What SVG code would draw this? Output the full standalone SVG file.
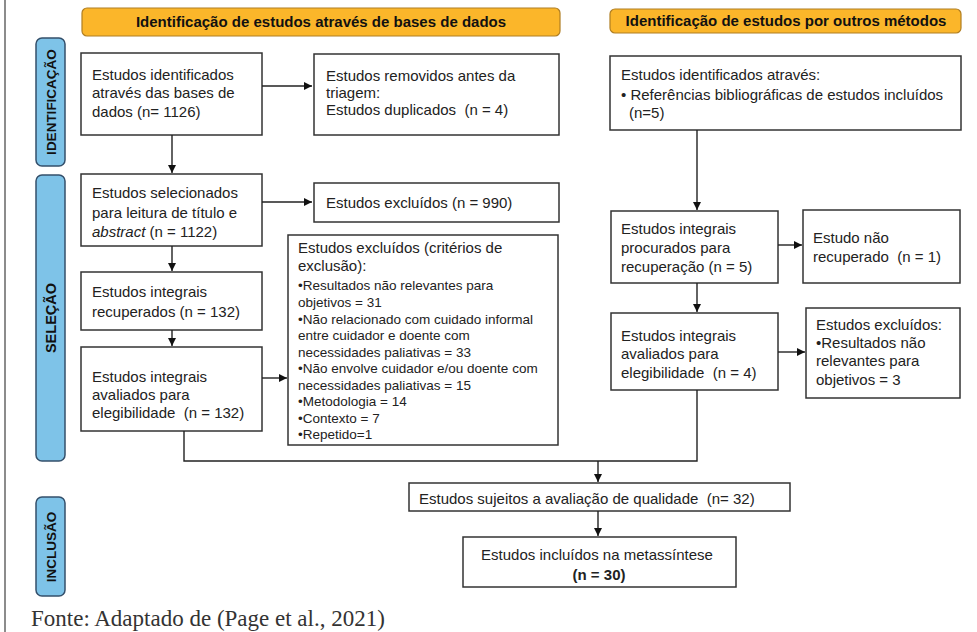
<svg xmlns="http://www.w3.org/2000/svg" width="977" height="632" viewBox="0 0 977 632">
<style>
text{font-family:"Liberation Sans",Arial,sans-serif;fill:#222;white-space:pre}
.t{font-size:15px}
.s{font-size:13.5px}
.h{font-size:15px;font-weight:bold;text-anchor:middle;fill:#111}
.v{font-size:13.5px;font-weight:bold;text-anchor:middle;fill:#111}
.box{fill:#fff;stroke:#333;stroke-width:1.5}
.hdr{fill:#FBB62A;stroke:#B07E22;stroke-width:1.2}
.bar{fill:#7EC3E8;stroke:#34506B;stroke-width:1.5}
.c{fill:none;stroke:#222;stroke-width:1.4}
</style>
<defs>
<marker id="ah" viewBox="0 0 10 10" refX="10" refY="5" markerWidth="8" markerHeight="8" orient="auto" markerUnits="userSpaceOnUse">
<path d="M0,0 L10,5 L0,10 z" fill="#111"/>
</marker>
</defs>
<rect width="977" height="632" fill="#fff"/>
<line x1="5" y1="0" x2="5" y2="632" stroke="#666" stroke-width="1.5"/>

<g id="hdr1"><rect class="hdr" x="82" y="8" width="478" height="28" rx="5"/><text class="h" x="321" y="27">Identificação de estudos através de bases de dados</text></g>
<g id="hdr2"><rect class="hdr" x="610" y="9" width="351" height="24" rx="5"/><text class="h" x="786" y="26">Identificação de estudos por outros métodos</text></g>

<g id="bar-id"><rect class="bar" x="36" y="38" width="29" height="128" rx="6"/><text class="v" transform="translate(56,102) rotate(-90)">IDENTIFICAÇÃO</text></g>
<g id="bar-sel"><rect class="bar" x="36" y="175" width="29" height="286" rx="6"/><text class="v" transform="translate(56,318) rotate(-90)" style="font-size:14.5px">SELEÇÃO</text></g>
<g id="bar-inc"><rect class="bar" x="36" y="497" width="29" height="99" rx="6"/><text class="v" transform="translate(56,547) rotate(-90)">INCLUSÃO</text></g>

<g id="A"><rect class="box" x="81" y="53" width="181" height="82"/>
<text class="t" x="92" y="80">Estudos identificados</text>
<text class="t" x="92" y="98">através das bases de</text>
<text class="t" x="92" y="117">dados (n= 1126)</text></g>

<g id="B"><rect class="box" x="314" y="54" width="245" height="81"/>
<text class="t" x="326" y="81">Estudos removidos antes da</text>
<text class="t" x="326" y="98">triagem:</text>
<text class="t" x="326" y="115">Estudos duplicados  (n = 4)</text></g>

<g id="C"><rect class="box" x="81" y="174" width="181" height="72"/>
<text class="t" x="92" y="198">Estudos selecionados</text>
<text class="t" x="92" y="218">para leitura de título e</text>
<text class="t" x="92" y="237"><tspan font-style="italic">abstract</tspan> (n = 1122)</text></g>

<g id="D"><rect class="box" x="314" y="183" width="245" height="39"/>
<text class="t" x="326" y="208">Estudos excluídos (n = 990)</text></g>

<g id="E"><rect class="box" x="81" y="272" width="181" height="58"/>
<text class="t" x="92" y="297">Estudos integrais</text>
<text class="t" x="92" y="317">recuperados (n = 132)</text></g>

<g id="F"><rect class="box" x="81" y="347" width="181" height="84"/>
<text class="t" x="92" y="382">Estudos integrais</text>
<text class="t" x="92" y="400">avaliados para</text>
<text class="t" x="92" y="418">elegibilidade  (n = 132)</text></g>

<g id="G"><rect class="box" x="288" y="235" width="270" height="210"/>
<text class="t" x="298" y="253">Estudos excluídos (critérios de</text>
<text class="t" x="298" y="271">exclusão):</text>
<text class="s" x="298" y="290">•Resultados não relevantes para</text>
<text class="s" x="298" y="307">objetivos = 31</text>
<text class="s" x="298" y="324">•Não relacionado com cuidado informal</text>
<text class="s" x="298" y="340">entre cuidador e doente com</text>
<text class="s" x="298" y="357">necessidades paliativas = 33</text>
<text class="s" x="298" y="373">•Não envolve cuidador e/ou doente com</text>
<text class="s" x="298" y="390">necessidades paliativas = 15</text>
<text class="s" x="298" y="406">•Metodologia = 14</text>
<text class="s" x="298" y="423">•Contexto = 7</text>
<text class="s" x="298" y="439">•Repetido=1</text></g>

<g id="H"><rect class="box" x="610" y="56" width="351" height="74"/>
<text class="t" x="621" y="80">Estudos identificados através:</text>
<text class="t" x="621" y="100">• Referências bibliográficas de estudos incluídos</text>
<text class="t" x="629" y="118">(n=5)</text></g>

<g id="I"><rect class="box" x="611" y="211" width="167" height="72"/>
<text class="t" x="621" y="234">Estudos integrais</text>
<text class="t" x="621" y="253">procurados para</text>
<text class="t" x="621" y="272">recuperação (n = 5)</text></g>

<g id="J"><rect class="box" x="803" y="210" width="157" height="73"/>
<text class="t" x="813" y="243">Estudo não</text>
<text class="t" x="813" y="262">recuperado  (n = 1)</text></g>

<g id="K"><rect class="box" x="611" y="313" width="167" height="77"/>
<text class="t" x="621" y="341">Estudos integrais</text>
<text class="t" x="621" y="359">avaliados para</text>
<text class="t" x="621" y="378">elegibilidade  (n = 4)</text></g>

<g id="L"><rect class="box" x="806" y="308" width="154" height="90"/>
<text class="t" x="816" y="330">Estudos excluídos:</text>
<text class="t" x="816" y="348">•Resultados não</text>
<text class="t" x="816" y="366">relevantes para</text>
<text class="t" x="816" y="385">objetivos = 3</text></g>

<g id="M"><rect class="box" x="409" y="483" width="381" height="28"/>
<text class="t" x="419" y="504">Estudos sujeitos a avaliação de qualidade  (n= 32)</text></g>

<g id="N"><rect class="box" x="463" y="537" width="273" height="50"/>
<text class="t" x="597" y="560" text-anchor="middle">Estudos incluídos na metassíntese</text>
<text class="t" x="599" y="580" text-anchor="middle" font-weight="bold">(n = 30)</text></g>

<g id="connectors">
<line class="c" x1="262" y1="86" x2="312" y2="86" marker-end="url(#ah)"/>
<line class="c" x1="172" y1="135" x2="172" y2="173" marker-end="url(#ah)"/>
<line class="c" x1="262" y1="202" x2="312" y2="202" marker-end="url(#ah)"/>
<line class="c" x1="172" y1="246" x2="172" y2="271" marker-end="url(#ah)"/>
<line class="c" x1="172" y1="330" x2="172" y2="346" marker-end="url(#ah)"/>
<line class="c" x1="262" y1="378" x2="287" y2="378" marker-end="url(#ah)"/>
<polyline class="c" points="184,431 184,461 697,461 697,390"/>
<line class="c" x1="598" y1="461" x2="598" y2="482" marker-end="url(#ah)"/>
<line class="c" x1="697" y1="130" x2="697" y2="210" marker-end="url(#ah)"/>
<line class="c" x1="778" y1="245" x2="802" y2="245" marker-end="url(#ah)"/>
<line class="c" x1="697" y1="283" x2="697" y2="312" marker-end="url(#ah)"/>
<line class="c" x1="778" y1="352" x2="805" y2="352" marker-end="url(#ah)"/>
<line class="c" x1="598" y1="511" x2="598" y2="536" marker-end="url(#ah)"/>
</g>

<text x="31" y="626" style="font-family:'Liberation Serif','Times New Roman',serif;font-size:23px;fill:#333">Fonte: Adaptado de (Page et al., 2021)</text>
</svg>
